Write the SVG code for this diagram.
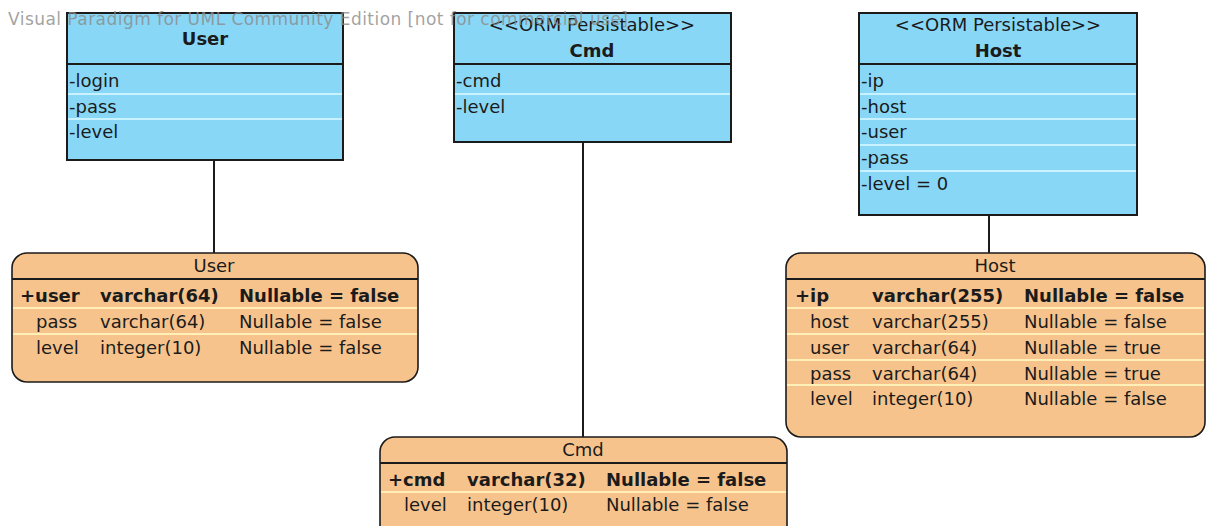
<svg xmlns="http://www.w3.org/2000/svg" width="1206" height="526" viewBox="0 0 1206 526">
<style>
text{font-family:"DejaVu Sans","Liberation Sans",sans-serif;font-size:18px;fill:#1b1b1b}
.b{font-weight:bold}
.cls{fill:#89D7F7;stroke:#1b1b1b;stroke-width:2}
.tbl{fill:#F7C38D;stroke:#1b1b1b;stroke-width:1.6}
.hl{stroke:#1b1b1b;stroke-width:2}
.cs{stroke:#C8F2FF;stroke-width:2}
.ts{stroke:#FFF0B8;stroke-width:2}
.c{text-anchor:middle}
.wm{font-size:17px;fill:#8a8a8a;fill-opacity:0.8}
.conn{stroke:#1b1b1b;stroke-width:2;fill:none}
</style>
<g id="connectors">
<line class="conn" x1="214" y1="160" x2="214" y2="253"/>
<line class="conn" x1="583" y1="142" x2="583" y2="437"/>
<line class="conn" x1="989" y1="215" x2="989" y2="253"/>
</g>
<g id="class-User">
<rect class="cls" x="67" y="13" width="276" height="147"/>
<line class="hl" x1="67" y1="64" x2="343" y2="64"/>
<line class="cs" x1="68" y1="94" x2="342" y2="94"/>
<line class="cs" x1="68" y1="119" x2="342" y2="119"/>
<text class="b c" x="205" y="45">User</text>
<text x="69" y="87">-login</text>
<text x="69" y="113">-pass</text>
<text x="69" y="138">-level</text>
</g>
<g id="class-Cmd">
<rect class="cls" x="454" y="13" width="277" height="129"/>
<line class="hl" x1="454" y1="64" x2="731" y2="64"/>
<line class="cs" x1="455" y1="94" x2="730" y2="94"/>
<text class="c" x="592" y="31">&lt;&lt;ORM Persistable&gt;&gt;</text>
<text class="b c" x="592" y="57">Cmd</text>
<text x="456" y="87">-cmd</text>
<text x="456" y="113">-level</text>
</g>
<g id="class-Host">
<rect class="cls" x="859" y="13" width="278" height="202"/>
<line class="hl" x1="859" y1="64" x2="1137" y2="64"/>
<line class="cs" x1="860" y1="94" x2="1136" y2="94"/>
<line class="cs" x1="860" y1="119" x2="1136" y2="119"/>
<line class="cs" x1="860" y1="145" x2="1136" y2="145"/>
<line class="cs" x1="860" y1="171" x2="1136" y2="171"/>
<text class="c" x="998" y="31">&lt;&lt;ORM Persistable&gt;&gt;</text>
<text class="b c" x="998" y="57">Host</text>
<text x="861" y="87">-ip</text>
<text x="861" y="113">-host</text>
<text x="861" y="138">-user</text>
<text x="861" y="164">-pass</text>
<text x="861" y="190">-level = 0</text>
</g>
<g id="table-User">
<rect class="tbl" x="12" y="253" width="406" height="129" rx="15"/>
<line class="hl" x1="12" y1="279" x2="418" y2="279"/>
<line class="ts" x1="13" y1="308" x2="417" y2="308"/>
<line class="ts" x1="13" y1="334" x2="417" y2="334"/>
<text class="c" x="214" y="272">User</text>
<text class="b" x="20" y="302">+user</text>
<text class="b" x="100" y="302">varchar(64)</text>
<text class="b" x="239" y="302">Nullable = false</text>
<text x="36" y="328">pass</text>
<text x="100" y="328">varchar(64)</text>
<text x="239" y="328">Nullable = false</text>
<text x="36" y="354">level</text>
<text x="100" y="354">integer(10)</text>
<text x="239" y="354">Nullable = false</text>
</g>
<g id="table-Cmd">
<rect class="tbl" x="380" y="437" width="407" height="110" rx="15"/>
<line class="hl" x1="380" y1="463" x2="787" y2="463"/>
<line class="ts" x1="381" y1="492" x2="786" y2="492"/>
<text class="c" x="583" y="456">Cmd</text>
<text class="b" x="388" y="486">+cmd</text>
<text class="b" x="467" y="486">varchar(32)</text>
<text class="b" x="606" y="486">Nullable = false</text>
<text x="404" y="511">level</text>
<text x="467" y="511">integer(10)</text>
<text x="606" y="511">Nullable = false</text>
</g>
<g id="table-Host">
<rect class="tbl" x="786" y="253" width="419" height="184" rx="15"/>
<line class="hl" x1="786" y1="279" x2="1205" y2="279"/>
<line class="ts" x1="787" y1="308" x2="1204" y2="308"/>
<line class="ts" x1="787" y1="334" x2="1204" y2="334"/>
<line class="ts" x1="787" y1="360" x2="1204" y2="360"/>
<line class="ts" x1="787" y1="385" x2="1204" y2="385"/>
<text class="c" x="995" y="272">Host</text>
<text class="b" x="795" y="302">+ip</text>
<text class="b" x="872" y="302">varchar(255)</text>
<text class="b" x="1024" y="302">Nullable = false</text>
<text x="810" y="328">host</text>
<text x="872" y="328">varchar(255)</text>
<text x="1024" y="328">Nullable = false</text>
<text x="810" y="354">user</text>
<text x="872" y="354">varchar(64)</text>
<text x="1024" y="354">Nullable = true</text>
<text x="810" y="380">pass</text>
<text x="872" y="380">varchar(64)</text>
<text x="1024" y="380">Nullable = true</text>
<text x="810" y="405">level</text>
<text x="872" y="405">integer(10)</text>
<text x="1024" y="405">Nullable = false</text>
</g>
<text class="wm" x="8" y="25" textLength="620" lengthAdjust="spacing">Visual Paradigm for UML Community Edition [not for commercial use]</text>
</svg>
